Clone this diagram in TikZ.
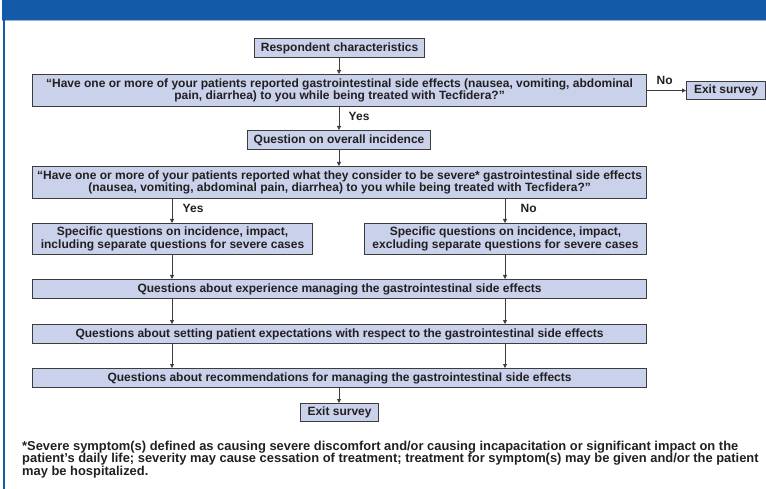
\documentclass[tikz,border=0pt]{standalone}
\usepackage{fontspec}
\setmainfont{Liberation Sans}
\usetikzlibrary{arrows.meta}
\definecolor{hdr}{HTML}{135BA8}
\definecolor{boxfill}{HTML}{C9D1EB}
\definecolor{boxline}{HTML}{3C3C3C}
\definecolor{txt}{HTML}{231F20}
\begin{document}
\begin{tikzpicture}[x=1pt,y=-1pt,
  fbox/.style={draw=boxline,line width=1.1pt,fill=boxfill,inner sep=0pt,
    font=\bfseries\fontsize{12}{12.4}\selectfont,text=txt,align=center,anchor=north west},
  conn/.style={draw=boxline,line width=0.8pt,-{Triangle[length=4pt,width=4pt]}},
  lbl/.style={font=\bfseries\fontsize{12}{12}\selectfont,text=txt}]
\useasboundingbox (0,0) rectangle (766,489);
\fill[hdr] (2,0) rectangle (766,20);
\draw[hdr!45,line width=0.8pt] (2,20.4) -- (766,20.4);
\draw[hdr,line width=2pt] (4,20) -- (4,489);
% boxes
\node[fbox,minimum width=170pt,minimum height=19pt] (resp) at (254,38) {Respondent characteristics};
\node[fbox,minimum width=614pt,minimum height=32pt] (q1) at (32,74)
  {“Have one or more of your patients reported gastrointestinal side effects (nausea, vomiting, abdominal\\pain, diarrhea) to you while being treated with Tecfidera?”};
\node[fbox,minimum width=79pt,minimum height=18pt] (exit1) at (686,81) {Exit survey};
\node[fbox,minimum width=183pt,minimum height=19pt] (overall) at (247,130) {Question on overall incidence};
\node[fbox,minimum width=614pt,minimum height=32pt] (q2) at (32,166)
  {“Have one or more of your patients reported what they consider to be severe* gastrointestinal side effects\\(nausea, vomiting, abdominal pain, diarrhea) to you while being treated with Tecfidera?”};
\node[fbox,minimum width=280pt,minimum height=31pt] (specL) at (32,223)
  {Specific questions on incidence, impact,\\including separate questions for severe cases};
\node[fbox,minimum width=282pt,minimum height=31pt] (specR) at (364,223)
  {Specific questions on incidence, impact,\\excluding separate questions for severe cases};
\node[fbox,minimum width=614pt,minimum height=19pt] (exp) at (32,279)
  {Questions about experience managing the gastrointestinal side effects};
\node[fbox,minimum width=614pt,minimum height=19pt] (set) at (32,324)
  {Questions about setting patient expectations with respect to the gastrointestinal side effects};
\node[fbox,minimum width=614pt,minimum height=19pt] (rec) at (32,368)
  {Questions about recommendations for managing the gastrointestinal side effects};
\node[fbox,minimum width=78pt,minimum height=18pt] (exit2) at (300,403) {Exit survey};
% helper coordinates
\coordinate (xL) at (172,0);
\coordinate (xR) at (505,0);
\coordinate (xM) at (339,0);
% connectors
\draw[conn] (resp.south -| xM) -- (q1.north -| xM);
\draw[conn] (q1.south -| xM) -- node[lbl,right=6pt,pos=0.42] (yes1) {Yes} (overall.north -| xM);
\draw[conn] (q1.east) -- node[lbl,above=2pt,pos=0.45] (no1) {No} (exit1.west);
\draw[conn] (overall.south -| xM) -- (q2.north -| xM);
\draw[conn] (q2.south -| xL) -- node[lbl,right=7pt,pos=0.4] (yes2) {Yes} (specL.north -| xL);
\draw[conn] (q2.south -| xR) -- node[lbl,right=12pt,pos=0.4] (no2) {No} (specR.north -| xR);
\draw[conn] (specL.south -| xL) -- (exp.north -| xL);
\draw[conn] (specR.south -| xR) -- (exp.north -| xR);
\draw[conn] (exp.south -| xL) -- (set.north -| xL);
\draw[conn] (exp.south -| xR) -- (set.north -| xR);
\draw[conn] (set.south -| xL) -- (rec.north -| xL);
\draw[conn] (set.south -| xR) -- (rec.north -| xR);
\draw[conn] (rec.south -| xM) -- (exit2.north -| xM);
% footnote
\node[anchor=north west,inner sep=0pt,align=left,text=txt,
  font=\bfseries\fontsize{12.9}{12.6}\selectfont] (foot) at (22,440.5)
  {*Severe symptom(s) defined as causing severe discomfort and/or causing incapacitation or significant impact on the\\
   patient’s daily life; severity may cause cessation of treatment; treatment for symptom(s) may be given and/or the patient\\
   may be hospitalized.};
\end{tikzpicture}
\end{document}
